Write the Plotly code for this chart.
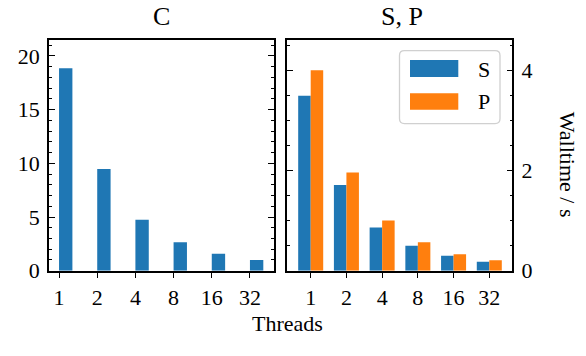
import plotly.graph_objects as go

threads = ["1", "2", "4", "8", "16", "32"]
c_time = [18.85, 9.48, 4.75, 2.66, 1.59, 0.99]
s_time = [3.49, 1.71, 0.865, 0.50, 0.30, 0.18]
p_time = [4.00, 1.96, 1.00, 0.57, 0.33, 0.21]

W, H = 586, 356
FONT = "Liberation Serif, Times New Roman, serif"
BLUE = "#1f77b4"
ORANGE = "#ff7f0e"
pos = list(range(len(threads)))

fig = go.Figure()
fig.add_trace(go.Bar(x=pos, y=c_time, offset=0, width=0.35, marker_color=BLUE,
                     marker_line_width=0, xaxis="x", yaxis="y", showlegend=False))
fig.add_trace(go.Bar(x=pos, y=s_time, offset=-0.35, width=0.35, marker_color=BLUE,
                     marker_line_width=0, xaxis="x2", yaxis="y2", name="S", showlegend=False))
fig.add_trace(go.Bar(x=pos, y=p_time, offset=0, width=0.35, marker_color=ORANGE,
                     marker_line_width=0, xaxis="x2", yaxis="y2", name="P", showlegend=False))

def px(x):
    return x / W

def py(y):
    return 1 - y / H

ydom = [py(281), py(41.7)]
common_x = dict(tickmode="array", tickvals=pos, ticktext=threads, ticks="outside",
                ticklen=6, tickwidth=1.3, tickcolor="black", showline=True, linecolor="black",
                linewidth=1.5, mirror=True, showgrid=False, zeroline=False,
                tickfont=dict(size=22, color="black", family=FONT))
common_y = dict(ticks="inside", ticklen=6, tickwidth=1.3, tickcolor="black", showline=True,
                linecolor="black", linewidth=1.5, mirror="allticks", showgrid=False,
                zeroline=False, ticklabelstandoff=3,
                tickfont=dict(size=22, color="black", family=FONT))

fig.update_layout(
    width=W, height=H, margin=dict(l=0, r=0, t=0, b=0),
    paper_bgcolor="white", plot_bgcolor="white", barmode="overlay",
    font=dict(family=FONT, color="black"),
    xaxis=dict(domain=[px(49), px(274)], range=[-0.263, 5.63], anchor="y", **common_x),
    yaxis=dict(domain=ydom, range=[0, 21.46], dtick=5, anchor="x",
               minor=dict(ticks="inside", dtick=1, ticklen=3, tickwidth=1, tickcolor="black"),
               **common_y),
    xaxis2=dict(domain=[px(287.3), px(512.3)], range=[-0.655, 5.644], anchor="y2", **common_x),
    yaxis2=dict(domain=ydom, range=[0, 4.6], dtick=2, anchor="x2", side="right",
                minor=dict(ticks="inside", dtick=0.5, ticklen=3, tickwidth=1, tickcolor="black"),
                **common_y),
)

annots = [
    dict(text="C", x=px(161.5), y=py(17), size=26),
    dict(text="S, P", x=px(401.7), y=py(17), size=26),
    dict(text="Threads", x=px(287.5), y=py(336), size=22),
    dict(text="S", x=px(484), y=py(72), size=22),
    dict(text="P", x=px(484), y=py(105), size=22),
]
for a in annots:
    fig.add_annotation(text=a["text"], x=a["x"], y=a["y"], xref="paper", yref="paper",
                       showarrow=False, xanchor="center", yanchor="middle",
                       font=dict(size=a["size"], family=FONT, color="black"))
fig.add_annotation(text="Walltime / s", x=px(567), y=py(171), xref="paper", yref="paper",
                   showarrow=False, textangle=90, xanchor="center", yanchor="middle",
                   font=dict(size=22, family=FONT, color="black"))

# legend box (rounded)
x0, x1, y0, y1, r = 399.5, 500, 52.5, 128.3, 5
rx, ry = r / W, r / H
X0, X1, Y0, Y1 = px(x0), px(x1), py(y1), py(y0)
path = (f"M {X0+rx},{Y0} L {X1-rx},{Y0} Q {X1},{Y0} {X1},{Y0+ry} "
        f"L {X1},{Y1-ry} Q {X1},{Y1} {X1-rx},{Y1} L {X0+rx},{Y1} "
        f"Q {X0},{Y1} {X0},{Y1-ry} L {X0},{Y0+ry} Q {X0},{Y0} {X0+rx},{Y0} Z")
fig.add_shape(type="path", path=path, xref="paper", yref="paper",
              line=dict(color="#d0d0d0", width=1.3), fillcolor="rgba(255,255,255,0.8)")
fig.add_shape(type="rect", xref="paper", yref="paper", x0=px(410), x1=px(458.3),
              y0=py(80), y1=py(62.3), line_width=0, fillcolor=BLUE)
fig.add_shape(type="rect", xref="paper", yref="paper", x0=px(410), x1=px(458.3),
              y0=py(114), y1=py(96.7), line_width=0, fillcolor=ORANGE)

fig.write_html("out.html")
